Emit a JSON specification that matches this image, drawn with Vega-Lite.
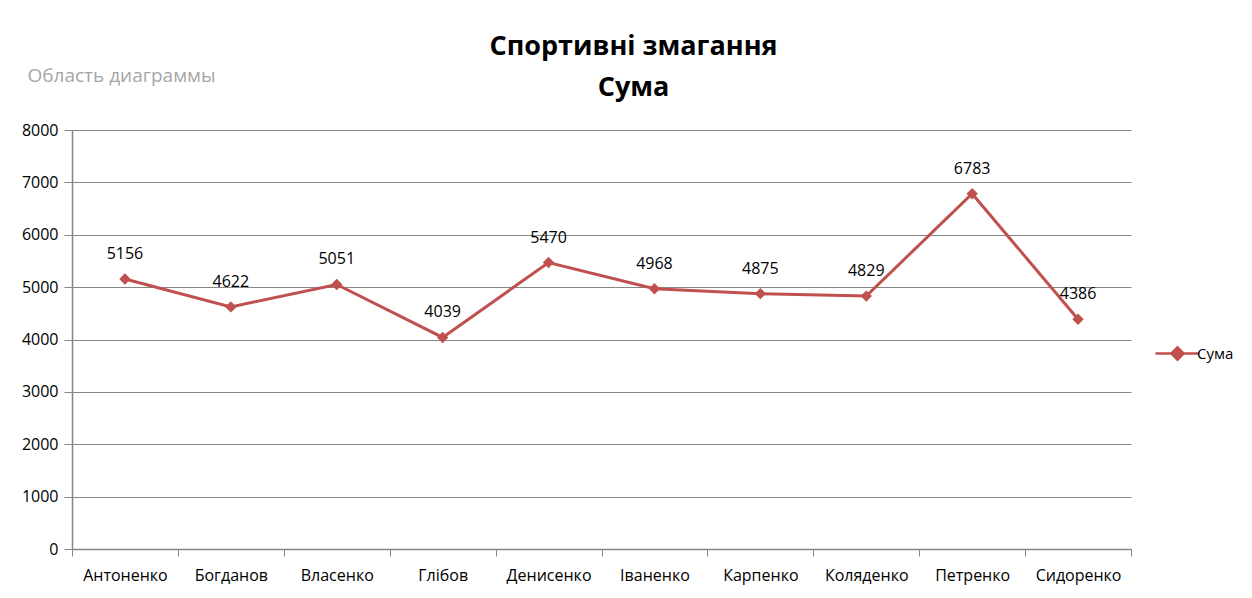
{
  "$schema": "https://vega.github.io/schema/vega-lite/v6.json",
  "width": 1059,
  "height": 419,
  "autosize": {"type": "none"},
  "padding": {"left": 72, "top": 130, "right": 121, "bottom": 49},
  "background": "white",
  "title": {
    "text": ["Спортивні змагання", "Сума"],
    "font": "Open Sans",
    "fontSize": 27,
    "fontWeight": "bold",
    "color": "#000000",
    "anchor": "middle",
    "frame": "group",
    "dx": 32,
    "lineHeight": 41,
    "offset": -36
  },
  "data": {
    "values": [
      {"name": "Антоненко", "sum": 5156},
      {"name": "Богданов", "sum": 4622},
      {"name": "Власенко", "sum": 5051},
      {"name": "Глібов", "sum": 4039},
      {"name": "Денисенко", "sum": 5470},
      {"name": "Іваненко", "sum": 4968},
      {"name": "Карпенко", "sum": 4875},
      {"name": "Коляденко", "sum": 4829},
      {"name": "Петренко", "sum": 6783},
      {"name": "Сидоренко", "sum": 4386}
    ]
  },
  "config": {
    "view": {"stroke": null},
    "axis": {
      "labelFont": "Open Sans",
      "labelColor": "#000000",
      "domainColor": "#868686",
      "tickColor": "#868686",
      "gridColor": "#868686",
      "titleFont": "Open Sans"
    }
  },
  "encoding": {
    "x": {"field": "name", "type": "nominal", "sort": null, "scale": {"paddingInner": 0, "paddingOuter": 0},
      "axis": {"tickBand": "extent", "ticks": true, "tickSize": 7, "labelPadding": 11, "labelFontSize": 16, "labelAngle": 0, "domainWidth": 1.5, "grid": false, "title": null}},
    "y": {"field": "sum", "type": "quantitative", "scale": {"domain": [0, 8000]},
      "axis": {"tickCount": 8, "format": "d", "grid": true, "tickSize": 8, "labelPadding": 6, "labelFontSize": 16, "domainWidth": 1.5, "title": "Область диаграммы", "titleAngle": 0, "titleAlign": "left", "titleBaseline": "middle", "titleX": -45, "titleY": -55, "titleFont": "Open Sans", "titleFontSize": 19, "titleFontWeight": "normal", "titleColor": "#A6A6A6"}}
  },
  "layer": [
    {
      "mark": {"type": "line", "color": "#C0504D", "strokeWidth": 3},
      "encoding": {
        "color": {"datum": "Сума", "type": "nominal", "scale": {"range": ["#C0504D"]},
          "legend": {"title": null, "orient": "none", "legendX": 1092, "legendY": 210,
            "symbolType": "M-1.8,0H1.8M0,-0.5L0.5,0L0,0.5L-0.5,0Z",
            "symbolSize": 600, "symbolStrokeWidth": 2.5, "symbolStrokeColor": "#C0504D", "symbolFillColor": "#C0504D",
            "labelFont": "Open Sans", "labelFontSize": 15, "labelColor": "#000000", "labelOffset": 6}}
      }
    },
    {
      "mark": {"type": "point", "shape": "diamond", "filled": true, "color": "#C0504D", "size": 130, "opacity": 1},
      "encoding": {}
    },
    {
      "mark": {"type": "text", "dy": -25, "font": "Open Sans", "fontSize": 16, "color": "#000000"},
      "encoding": {
        "text": {"field": "sum", "type": "quantitative"}
      }
    }
  ]
}
